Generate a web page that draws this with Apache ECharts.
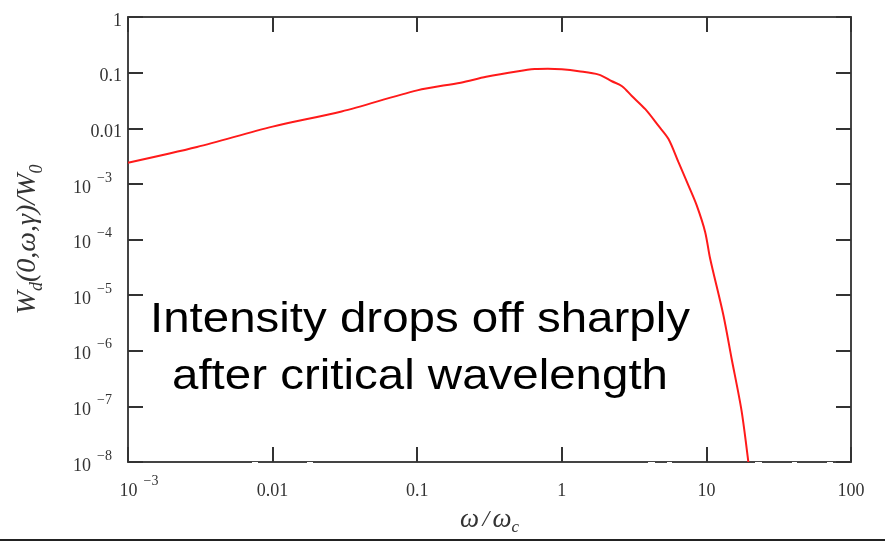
<!DOCTYPE html>
<html>
<head>
<meta charset="utf-8">
<script src="https://cdn.jsdelivr.net/npm/echarts@6/dist/echarts.min.js"></script>
<style>
  html, body { margin: 0; padding: 0; background: #fff; }
  #main { width: 885px; height: 541px; }
</style>
</head>
<body>
<div id="main"></div>
<script>
// omega / omega_c
var freq = [0.001, 0.003, 0.01, 0.03, 0.1, 0.2, 0.3, 0.5, 0.65, 0.8, 1.0, 1.31, 1.8, 2.22, 2.61, 3.05,
            3.78, 4.67, 5.47, 6.41, 7.52, 8.57, 9.8, 10.6, 13.1, 14.9, 17.5, 19.5];
// W_d(0,w,g)/W_0
var intensity = [0.0024, 0.0046, 0.0107, 0.020, 0.048, 0.066, 0.084, 0.106, 0.116, 0.118, 0.115, 0.106, 0.092, 0.070, 0.057, 0.038,
                 0.022, 0.011, 0.0064, 0.00245, 9.3e-4, 4.1e-4, 1.37e-4, 4.6e-5, 4.4e-6, 7.5e-7, 8.4e-8, 1e-8];

// tick labels, keyed by decade exponent
var xExp = [-3, -2, -1, 0, 1, 2];
var xText = ['10^−3', '0.01', '0.1', '1', '10', '100'];
var yExp = [0, -1, -2, -3, -4, -5, -6, -7, -8];
var yText = ['1', '0.1', '0.01', '10^−3', '10^−4', '10^−5', '10^−6', '10^−7', '10^−8'];

var note = 'Intensity drops off sharply\nafter critical wavelength';

function richLabel(txt, isX) {
  if (txt.indexOf('^') < 0) return '{b|' + txt + '}';
  var p = txt.split('^');
  return (isX ? '{bx|' : '{b|') + p[0] + '}' + (isX ? '{sx|' : '{s|') + p[1] + '}';
}
function labelFor(v, exps, texts, isX) {
  var e = Math.round(Math.log10(v));
  var i = exps.indexOf(e);
  return i < 0 ? '' : richLabel(texts[i], isX);
}

var serif = '"Liberation Serif", "Times New Roman", serif';
var labelRich = {
  b: { fontFamily: serif, fontSize: 18, color: '#333', verticalAlign: 'bottom', lineHeight: 26 },
  s: { fontFamily: serif, fontSize: 14, color: '#333', verticalAlign: 'top', lineHeight: 26, padding: [0, 10, 0, 6] },
  bx: { fontFamily: serif, fontSize: 18, color: '#333', verticalAlign: 'bottom', lineHeight: 26, padding: [0, 0, 0, 22] },
  sx: { fontFamily: serif, fontSize: 14, color: '#333', verticalAlign: 'top', lineHeight: 26, padding: [0, 0, 0, 6] }
};
var axisLine = { show: true, lineStyle: { color: '#444', width: 2 } };
var tick = { show: true, inside: true, length: 15, lineStyle: { color: '#333', width: 2 } };

var myChart = echarts.init(document.getElementById('main'));
var option = {
  backgroundColor: '#fff',
  animation: false,
  grid: { left: 128, right: 34, top: 17, bottom: 76 },
  xAxis: [
    {
      type: 'log', logBase: 10, min: 0.001, max: 100, splitNumber: 5,
      position: 'bottom',
      axisLine: axisLine, axisTick: tick,
      splitLine: { show: false }, minorTick: { show: false },
      axisLabel: {
        margin: 12, showMinLabel: true, showMaxLabel: true,
        formatter: function (v) { return labelFor(v, xExp, xText, true); },
        rich: labelRich
      },
      name: '{i|ω} {n|/} {i|ω}{sub|c}',
      nameLocation: 'middle', nameGap: 41,
      nameTextStyle: {
        rich: {
          i: { fontFamily: serif, fontStyle: 'italic', fontSize: 27, color: '#333' },
          n: { fontFamily: serif, fontStyle: 'italic', fontSize: 24, color: '#333' },
          sub: { fontFamily: serif, fontStyle: 'italic', fontSize: 17, color: '#333', padding: [16, 0, 0, 0] }
        }
      }
    },
    {
      type: 'log', logBase: 10, min: 0.001, max: 100, splitNumber: 5,
      position: 'top',
      axisLine: axisLine, axisTick: tick,
      splitLine: { show: false }, axisLabel: { show: false }
    }
  ],
  yAxis: [
    {
      type: 'log', logBase: 10, min: 1e-8, max: 1, splitNumber: 8,
      position: 'left',
      axisLine: axisLine, axisTick: tick,
      splitLine: { show: false }, minorTick: { show: false },
      axisLabel: {
        margin: 6, showMinLabel: true, showMaxLabel: true,
        formatter: function (v) { return labelFor(v, yExp, yText, false); },
        rich: labelRich
      },
      name: '{i|W}{sub|d}{i|(0,ω,γ)/W}{sub|0}',
      nameLocation: 'middle', nameGap: 82, nameRotate: 90,
      nameTextStyle: {
        rich: {
          i: { fontFamily: serif, fontStyle: 'italic', fontSize: 28, color: '#333' },
          sub: { fontFamily: serif, fontStyle: 'italic', fontSize: 18, color: '#333', padding: [18, 0, 0, 0] }
        }
      }
    },
    {
      type: 'log', logBase: 10, min: 1e-8, max: 1, splitNumber: 8,
      position: 'right',
      axisLine: axisLine, axisTick: tick,
      splitLine: { show: false }, axisLabel: { show: false }
    }
  ],
  series: [
    {
      type: 'line',
      xAxisIndex: 0, yAxisIndex: 0,
      data: freq.map(function (f, i) { return [f, intensity[i]]; }),
      showSymbol: false,
      smooth: 0.3,
      clip: true,
      lineStyle: { color: '#ff1a1a', width: 2 }
    }
  ],
  graphic: [
    {
      type: 'text', x: 420, y: 292, z: 100, scaleX: 1.13,
      style: {
        text: note, align: 'center', verticalAlign: 'top',
        fontFamily: '"Liberation Sans", Arial, sans-serif', fontSize: 42, lineHeight: 57,
        fill: '#000'
      }
    },
    // white gaps left on the bottom axis of the original scan
    { type: 'rect', shape: { x: 252, y: 462, width: 6, height: 6 }, style: { fill: '#fff' }, z: 100 },
    { type: 'rect', shape: { x: 307, y: 462, width: 6, height: 6 }, style: { fill: '#fff' }, z: 100 },
    { type: 'rect', shape: { x: 648, y: 462, width: 7, height: 6 }, style: { fill: '#fff' }, z: 100 },
    { type: 'rect', shape: { x: 667, y: 462, width: 5, height: 6 }, style: { fill: '#fff' }, z: 100 },
    { type: 'rect', shape: { x: 755, y: 462, width: 7, height: 6 }, style: { fill: '#fff' }, z: 100 },
    { type: 'rect', shape: { x: 792, y: 462, width: 5, height: 6 }, style: { fill: '#fff' }, z: 100 },
    { type: 'rect', shape: { x: 827, y: 462, width: 6, height: 6 }, style: { fill: '#fff' }, z: 100 },
    // bottom border line
    { type: 'rect', shape: { x: 0, y: 539, width: 885, height: 2 }, style: { fill: '#222' }, z: 100 }
  ]
};
option && myChart.setOption(option);
</script>
</body>
</html>
